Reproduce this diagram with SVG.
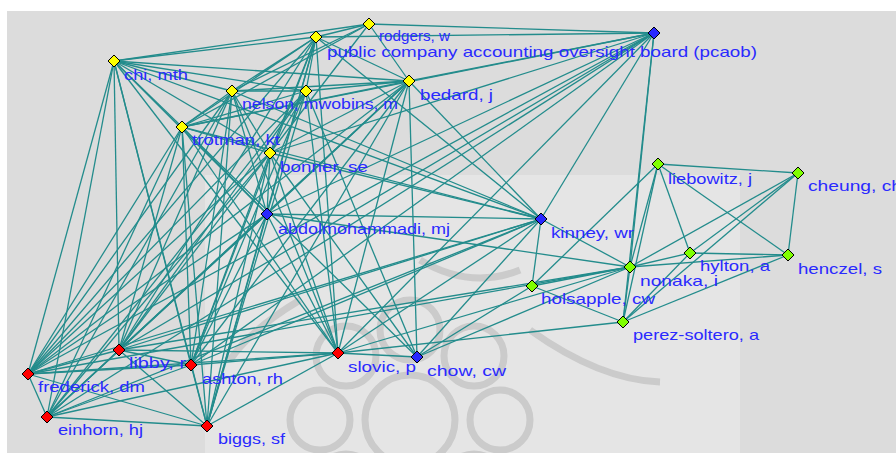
<svg xmlns="http://www.w3.org/2000/svg" width="896" height="453" viewBox="0 0 896 453">
<style>
.e{stroke:#238c8c;stroke-width:1.3;fill:none}
.nd{stroke:#000;stroke-width:1}
.y{fill:#ffff00}.b{fill:#2828ff}.r{fill:#ff0000}.g{fill:#80ff00}
text{font-family:"Liberation Sans",Arial,sans-serif;font-size:15px;fill:#2a2aff}
.wm{fill:none;stroke:#c2c2c2;stroke-width:7;opacity:0.75}
</style>
<rect x="0" y="0" width="896" height="453" fill="#ffffff"/>
<rect x="7" y="11" width="889" height="442" fill="#dcdcdc"/>
<rect x="205" y="175" width="535" height="278" fill="#e5e5e5"/>
<g id="watermark">
<circle class="wm" cx="410" cy="420" r="45"/>
<circle class="wm" cx="410" cy="330" r="30"/>
<circle class="wm" cx="474" cy="356" r="30"/>
<circle class="wm" cx="500" cy="420" r="30"/>
<circle class="wm" cx="346" cy="356" r="30"/>
<circle class="wm" cx="320" cy="420" r="30"/>
<circle class="wm" cx="474" cy="484" r="30"/>
<circle class="wm" cx="346" cy="484" r="30"/>
<path class="wm" d="M420 260 Q470 290 520 270"/>
<path class="wm" d="M530 330 Q600 380 660 382"/>
<path class="wm" d="M300 300 Q250 330 230 360"/>
</g>
<g id="edges">
<line class="e" x1="369" y1="24" x2="316" y2="37"/>
<line class="e" x1="369" y1="24" x2="114" y2="61"/>
<line class="e" x1="369" y1="24" x2="654" y2="33"/>
<line class="e" x1="369" y1="24" x2="232" y2="91"/>
<line class="e" x1="369" y1="24" x2="182" y2="127"/>
<line class="e" x1="369" y1="24" x2="409" y2="81"/>
<line class="e" x1="369" y1="24" x2="270" y2="153"/>
<line class="e" x1="316" y1="37" x2="654" y2="33"/>
<line class="e" x1="316" y1="37" x2="114" y2="61"/>
<line class="e" x1="316" y1="37" x2="232" y2="91"/>
<line class="e" x1="316" y1="37" x2="306" y2="91"/>
<line class="e" x1="316" y1="37" x2="409" y2="81"/>
<line class="e" x1="316" y1="37" x2="182" y2="127"/>
<line class="e" x1="316" y1="37" x2="270" y2="153"/>
<line class="e" x1="316" y1="37" x2="267" y2="214"/>
<line class="e" x1="316" y1="37" x2="119" y2="350"/>
<line class="e" x1="316" y1="37" x2="191" y2="365"/>
<line class="e" x1="316" y1="37" x2="28" y2="374"/>
<line class="e" x1="316" y1="37" x2="338" y2="353"/>
<line class="e" x1="316" y1="37" x2="207" y2="426"/>
<line class="e" x1="316" y1="37" x2="541" y2="219"/>
<line class="e" x1="114" y1="61" x2="232" y2="91"/>
<line class="e" x1="114" y1="61" x2="306" y2="91"/>
<line class="e" x1="114" y1="61" x2="409" y2="81"/>
<line class="e" x1="114" y1="61" x2="182" y2="127"/>
<line class="e" x1="114" y1="61" x2="270" y2="153"/>
<line class="e" x1="114" y1="61" x2="119" y2="350"/>
<line class="e" x1="114" y1="61" x2="191" y2="365"/>
<line class="e" x1="114" y1="61" x2="28" y2="374"/>
<line class="e" x1="114" y1="61" x2="47" y2="417"/>
<line class="e" x1="114" y1="61" x2="207" y2="426"/>
<line class="e" x1="114" y1="61" x2="338" y2="353"/>
<line class="e" x1="114" y1="61" x2="267" y2="214"/>
<line class="e" x1="114" y1="61" x2="541" y2="219"/>
<line class="e" x1="232" y1="91" x2="306" y2="91"/>
<line class="e" x1="232" y1="91" x2="409" y2="81"/>
<line class="e" x1="232" y1="91" x2="182" y2="127"/>
<line class="e" x1="232" y1="91" x2="270" y2="153"/>
<line class="e" x1="232" y1="91" x2="267" y2="214"/>
<line class="e" x1="232" y1="91" x2="119" y2="350"/>
<line class="e" x1="232" y1="91" x2="191" y2="365"/>
<line class="e" x1="232" y1="91" x2="28" y2="374"/>
<line class="e" x1="232" y1="91" x2="47" y2="417"/>
<line class="e" x1="232" y1="91" x2="207" y2="426"/>
<line class="e" x1="232" y1="91" x2="338" y2="353"/>
<line class="e" x1="232" y1="91" x2="541" y2="219"/>
<line class="e" x1="306" y1="91" x2="409" y2="81"/>
<line class="e" x1="306" y1="91" x2="182" y2="127"/>
<line class="e" x1="306" y1="91" x2="270" y2="153"/>
<line class="e" x1="306" y1="91" x2="119" y2="350"/>
<line class="e" x1="306" y1="91" x2="191" y2="365"/>
<line class="e" x1="306" y1="91" x2="28" y2="374"/>
<line class="e" x1="306" y1="91" x2="47" y2="417"/>
<line class="e" x1="306" y1="91" x2="338" y2="353"/>
<line class="e" x1="306" y1="91" x2="207" y2="426"/>
<line class="e" x1="306" y1="91" x2="417" y2="357"/>
<line class="e" x1="409" y1="81" x2="182" y2="127"/>
<line class="e" x1="409" y1="81" x2="270" y2="153"/>
<line class="e" x1="409" y1="81" x2="267" y2="214"/>
<line class="e" x1="409" y1="81" x2="119" y2="350"/>
<line class="e" x1="409" y1="81" x2="191" y2="365"/>
<line class="e" x1="409" y1="81" x2="28" y2="374"/>
<line class="e" x1="409" y1="81" x2="47" y2="417"/>
<line class="e" x1="409" y1="81" x2="338" y2="353"/>
<line class="e" x1="409" y1="81" x2="207" y2="426"/>
<line class="e" x1="409" y1="81" x2="541" y2="219"/>
<line class="e" x1="409" y1="81" x2="654" y2="33"/>
<line class="e" x1="409" y1="81" x2="417" y2="357"/>
<line class="e" x1="182" y1="127" x2="270" y2="153"/>
<line class="e" x1="182" y1="127" x2="267" y2="214"/>
<line class="e" x1="182" y1="127" x2="119" y2="350"/>
<line class="e" x1="182" y1="127" x2="191" y2="365"/>
<line class="e" x1="182" y1="127" x2="28" y2="374"/>
<line class="e" x1="182" y1="127" x2="47" y2="417"/>
<line class="e" x1="182" y1="127" x2="207" y2="426"/>
<line class="e" x1="182" y1="127" x2="338" y2="353"/>
<line class="e" x1="182" y1="127" x2="541" y2="219"/>
<line class="e" x1="182" y1="127" x2="417" y2="357"/>
<line class="e" x1="270" y1="153" x2="267" y2="214"/>
<line class="e" x1="270" y1="153" x2="119" y2="350"/>
<line class="e" x1="270" y1="153" x2="191" y2="365"/>
<line class="e" x1="270" y1="153" x2="28" y2="374"/>
<line class="e" x1="270" y1="153" x2="47" y2="417"/>
<line class="e" x1="270" y1="153" x2="207" y2="426"/>
<line class="e" x1="270" y1="153" x2="338" y2="353"/>
<line class="e" x1="270" y1="153" x2="541" y2="219"/>
<line class="e" x1="270" y1="153" x2="417" y2="357"/>
<line class="e" x1="267" y1="214" x2="119" y2="350"/>
<line class="e" x1="267" y1="214" x2="191" y2="365"/>
<line class="e" x1="267" y1="214" x2="28" y2="374"/>
<line class="e" x1="267" y1="214" x2="47" y2="417"/>
<line class="e" x1="267" y1="214" x2="338" y2="353"/>
<line class="e" x1="267" y1="214" x2="541" y2="219"/>
<line class="e" x1="267" y1="214" x2="207" y2="426"/>
<line class="e" x1="267" y1="214" x2="630" y2="267"/>
<line class="e" x1="654" y1="33" x2="541" y2="219"/>
<line class="e" x1="654" y1="33" x2="267" y2="214"/>
<line class="e" x1="654" y1="33" x2="270" y2="153"/>
<line class="e" x1="654" y1="33" x2="182" y2="127"/>
<line class="e" x1="654" y1="33" x2="119" y2="350"/>
<line class="e" x1="654" y1="33" x2="28" y2="374"/>
<line class="e" x1="654" y1="33" x2="630" y2="267"/>
<line class="e" x1="654" y1="33" x2="623" y2="322"/>
<line class="e" x1="654" y1="33" x2="338" y2="353"/>
<line class="e" x1="654" y1="33" x2="47" y2="417"/>
<line class="e" x1="654" y1="33" x2="191" y2="365"/>
<line class="e" x1="541" y1="219" x2="119" y2="350"/>
<line class="e" x1="541" y1="219" x2="28" y2="374"/>
<line class="e" x1="541" y1="219" x2="47" y2="417"/>
<line class="e" x1="541" y1="219" x2="191" y2="365"/>
<line class="e" x1="541" y1="219" x2="338" y2="353"/>
<line class="e" x1="541" y1="219" x2="630" y2="267"/>
<line class="e" x1="541" y1="219" x2="532" y2="286"/>
<line class="e" x1="541" y1="219" x2="417" y2="357"/>
<line class="e" x1="119" y1="350" x2="191" y2="365"/>
<line class="e" x1="119" y1="350" x2="28" y2="374"/>
<line class="e" x1="119" y1="350" x2="47" y2="417"/>
<line class="e" x1="119" y1="350" x2="207" y2="426"/>
<line class="e" x1="119" y1="350" x2="338" y2="353"/>
<line class="e" x1="191" y1="365" x2="28" y2="374"/>
<line class="e" x1="191" y1="365" x2="47" y2="417"/>
<line class="e" x1="191" y1="365" x2="207" y2="426"/>
<line class="e" x1="191" y1="365" x2="338" y2="353"/>
<line class="e" x1="338" y1="353" x2="28" y2="374"/>
<line class="e" x1="338" y1="353" x2="47" y2="417"/>
<line class="e" x1="338" y1="353" x2="207" y2="426"/>
<line class="e" x1="338" y1="353" x2="417" y2="357"/>
<line class="e" x1="338" y1="353" x2="630" y2="267"/>
<line class="e" x1="28" y1="374" x2="47" y2="417"/>
<line class="e" x1="28" y1="374" x2="207" y2="426"/>
<line class="e" x1="47" y1="417" x2="207" y2="426"/>
<line class="e" x1="417" y1="357" x2="630" y2="267"/>
<line class="e" x1="417" y1="357" x2="532" y2="286"/>
<line class="e" x1="658" y1="164" x2="630" y2="267"/>
<line class="e" x1="658" y1="164" x2="532" y2="286"/>
<line class="e" x1="658" y1="164" x2="623" y2="322"/>
<line class="e" x1="658" y1="164" x2="690" y2="253"/>
<line class="e" x1="658" y1="164" x2="788" y2="255"/>
<line class="e" x1="658" y1="164" x2="798" y2="173"/>
<line class="e" x1="798" y1="173" x2="690" y2="253"/>
<line class="e" x1="798" y1="173" x2="630" y2="267"/>
<line class="e" x1="798" y1="173" x2="788" y2="255"/>
<line class="e" x1="798" y1="173" x2="623" y2="322"/>
<line class="e" x1="788" y1="255" x2="690" y2="253"/>
<line class="e" x1="788" y1="255" x2="630" y2="267"/>
<line class="e" x1="788" y1="255" x2="623" y2="322"/>
<line class="e" x1="630" y1="267" x2="690" y2="253"/>
<line class="e" x1="630" y1="267" x2="532" y2="286"/>
<line class="e" x1="630" y1="267" x2="623" y2="322"/>
<line class="e" x1="532" y1="286" x2="623" y2="322"/>
<line class="e" x1="690" y1="253" x2="623" y2="322"/>
<line class="e" x1="630" y1="267" x2="119" y2="350"/>
<line class="e" x1="630" y1="267" x2="28" y2="374"/>
<line class="e" x1="623" y1="322" x2="338" y2="353"/>
</g>
<g id="n-rodgers"><polygon class="nd y" points="363,24 369,18 375,24 369,30"/><text x="379" y="41" textLength="71" lengthAdjust="spacingAndGlyphs">rodgers, w</text></g>
<g id="n-public"><polygon class="nd y" points="310,37 316,31 322,37 316,43"/><text x="327" y="57" textLength="430" lengthAdjust="spacingAndGlyphs">public company accounting oversight board (pcaob)</text></g>
<g id="n-pcaob"><polygon class="nd b" points="648,33 654,27 660,33 654,39"/></g>
<g id="n-chi"><polygon class="nd y" points="108,61 114,55 120,61 114,67"/><text x="124" y="80" textLength="64" lengthAdjust="spacingAndGlyphs">chi, mth</text></g>
<g id="n-nelson"><polygon class="nd y" points="226,91 232,85 238,91 232,97"/><text x="242" y="109" textLength="156" lengthAdjust="spacingAndGlyphs">nelson, mwobins, m</text></g>
<g id="n-wobins"><polygon class="nd y" points="300,91 306,85 312,91 306,97"/></g>
<g id="n-bedard"><polygon class="nd y" points="403,81 409,75 415,81 409,87"/><text x="420" y="100" textLength="73" lengthAdjust="spacingAndGlyphs">bedard, j</text></g>
<g id="n-trotman"><polygon class="nd y" points="176,127 182,121 188,127 182,133"/><text x="192" y="145" textLength="88" lengthAdjust="spacingAndGlyphs">trotman, kt</text></g>
<g id="n-bonner"><polygon class="nd y" points="264,153 270,147 276,153 270,159"/><text x="280" y="172" textLength="88" lengthAdjust="spacingAndGlyphs">bonner, se</text></g>
<g id="n-abdolmohammadi"><polygon class="nd b" points="261,214 267,208 273,214 267,220"/><text x="278" y="234" textLength="172" lengthAdjust="spacingAndGlyphs">abdolmohammadi, mj</text></g>
<g id="n-kinney"><polygon class="nd b" points="535,219 541,213 547,219 541,225"/><text x="551" y="238" textLength="83" lengthAdjust="spacingAndGlyphs">kinney, wr</text></g>
<g id="n-chow"><polygon class="nd b" points="411,357 417,351 423,357 417,363"/><text x="427" y="376" textLength="79" lengthAdjust="spacingAndGlyphs">chow, cw</text></g>
<g id="n-liebowitz"><polygon class="nd g" points="652,164 658,158 664,164 658,170"/><text x="668" y="184" textLength="84" lengthAdjust="spacingAndGlyphs">liebowitz, j</text></g>
<g id="n-cheung"><polygon class="nd g" points="792,173 798,167 804,173 798,179"/><text x="808" y="191" textLength="94" lengthAdjust="spacingAndGlyphs">cheung, ch</text></g>
<g id="n-hylton"><polygon class="nd g" points="684,253 690,247 696,253 690,259"/><text x="700" y="271" textLength="70" lengthAdjust="spacingAndGlyphs">hylton, a</text></g>
<g id="n-henczel"><polygon class="nd g" points="782,255 788,249 794,255 788,261"/><text x="798" y="274" textLength="84" lengthAdjust="spacingAndGlyphs">henczel, s</text></g>
<g id="n-nonaka"><polygon class="nd g" points="624,267 630,261 636,267 630,273"/><text x="640" y="286" textLength="78" lengthAdjust="spacingAndGlyphs">nonaka, i</text></g>
<g id="n-holsapple"><polygon class="nd g" points="526,286 532,280 538,286 532,292"/><text x="541" y="304" textLength="114" lengthAdjust="spacingAndGlyphs">holsapple, cw</text></g>
<g id="n-perez"><polygon class="nd g" points="617,322 623,316 629,322 623,328"/><text x="633" y="340" textLength="126" lengthAdjust="spacingAndGlyphs">perez-soltero, a</text></g>
<g id="n-libby"><polygon class="nd r" points="113,350 119,344 125,350 119,356"/><text x="129" y="368" textLength="57" lengthAdjust="spacingAndGlyphs">libby, r</text></g>
<g id="n-ashton"><polygon class="nd r" points="185,365 191,359 197,365 191,371"/><text x="202" y="384" textLength="81" lengthAdjust="spacingAndGlyphs">ashton, rh</text></g>
<g id="n-slovic"><polygon class="nd r" points="332,353 338,347 344,353 338,359"/><text x="348" y="372" textLength="68" lengthAdjust="spacingAndGlyphs">slovic, p</text></g>
<g id="n-frederick"><polygon class="nd r" points="22,374 28,368 34,374 28,380"/><text x="38" y="392" textLength="107" lengthAdjust="spacingAndGlyphs">frederick, dm</text></g>
<g id="n-einhorn"><polygon class="nd r" points="41,417 47,411 53,417 47,423"/><text x="58" y="435" textLength="85" lengthAdjust="spacingAndGlyphs">einhorn, hj</text></g>
<g id="n-biggs"><polygon class="nd r" points="201,426 207,420 213,426 207,432"/><text x="218" y="444" textLength="67" lengthAdjust="spacingAndGlyphs">biggs, sf</text></g>
</svg>
